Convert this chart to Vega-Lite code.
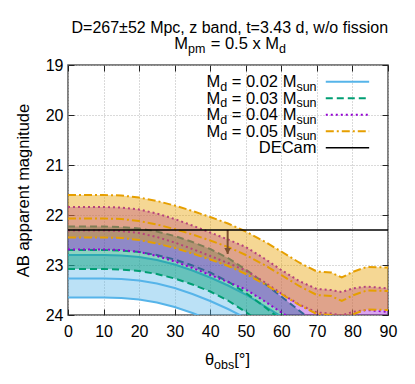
{
  "$schema": "https://vega.github.io/schema/vega-lite/v6.json",
  "width": 320,
  "height": 250,
  "autosize": "none",
  "padding": {"left": 68, "top": 65, "right": 27, "bottom": 69},
  "background": "white",
  "datasets": {
    "bands": [
      {"md": "0.02", "theta": 0, "upper": 22.80, "center": 23.27, "lower": 23.65},
      {"md": "0.02", "theta": 5, "upper": 22.80, "center": 23.27, "lower": 23.65},
      {"md": "0.02", "theta": 10, "upper": 22.80, "center": 23.27, "lower": 23.65},
      {"md": "0.02", "theta": 15, "upper": 22.81, "center": 23.28, "lower": 23.66},
      {"md": "0.02", "theta": 20, "upper": 22.84, "center": 23.31, "lower": 23.69},
      {"md": "0.02", "theta": 25, "upper": 22.90, "center": 23.37, "lower": 23.75},
      {"md": "0.02", "theta": 30, "upper": 22.99, "center": 23.46, "lower": 23.84},
      {"md": "0.02", "theta": 35, "upper": 23.11, "center": 23.58, "lower": 23.96},
      {"md": "0.02", "theta": 40, "upper": 23.25, "center": 23.72, "lower": 24.10},
      {"md": "0.02", "theta": 45, "upper": 23.41, "center": 23.88, "lower": 24.26},
      {"md": "0.02", "theta": 50, "upper": 23.59, "center": 24.06, "lower": 24.44},
      {"md": "0.02", "theta": 55, "upper": 23.81, "center": 24.28, "lower": 24.66},
      {"md": "0.02", "theta": 60, "upper": 24.03, "center": 24.50, "lower": 24.88},
      {"md": "0.03", "theta": 0, "upper": 22.23, "center": 22.70, "lower": 23.08},
      {"md": "0.03", "theta": 5, "upper": 22.23, "center": 22.70, "lower": 23.08},
      {"md": "0.03", "theta": 10, "upper": 22.23, "center": 22.70, "lower": 23.08},
      {"md": "0.03", "theta": 15, "upper": 22.24, "center": 22.71, "lower": 23.09},
      {"md": "0.03", "theta": 20, "upper": 22.27, "center": 22.74, "lower": 23.12},
      {"md": "0.03", "theta": 25, "upper": 22.33, "center": 22.80, "lower": 23.18},
      {"md": "0.03", "theta": 30, "upper": 22.42, "center": 22.89, "lower": 23.27},
      {"md": "0.03", "theta": 35, "upper": 22.54, "center": 23.01, "lower": 23.39},
      {"md": "0.03", "theta": 40, "upper": 22.68, "center": 23.15, "lower": 23.53},
      {"md": "0.03", "theta": 45, "upper": 22.86, "center": 23.33, "lower": 23.71},
      {"md": "0.03", "theta": 50, "upper": 23.09, "center": 23.56, "lower": 23.94},
      {"md": "0.03", "theta": 55, "upper": 23.35, "center": 23.82, "lower": 24.20},
      {"md": "0.03", "theta": 60, "upper": 23.63, "center": 24.10, "lower": 24.48},
      {"md": "0.03", "theta": 65, "upper": 23.91, "center": 24.38, "lower": 24.76},
      {"md": "0.03", "theta": 70, "upper": 24.18, "center": 24.65, "lower": 25.03},
      {"md": "0.04", "theta": 0, "upper": 21.84, "center": 22.31, "lower": 22.69},
      {"md": "0.04", "theta": 5, "upper": 21.84, "center": 22.31, "lower": 22.69},
      {"md": "0.04", "theta": 10, "upper": 21.84, "center": 22.31, "lower": 22.69},
      {"md": "0.04", "theta": 15, "upper": 21.85, "center": 22.32, "lower": 22.70},
      {"md": "0.04", "theta": 20, "upper": 21.89, "center": 22.36, "lower": 22.74},
      {"md": "0.04", "theta": 25, "upper": 21.97, "center": 22.44, "lower": 22.82},
      {"md": "0.04", "theta": 30, "upper": 22.08, "center": 22.55, "lower": 22.93},
      {"md": "0.04", "theta": 35, "upper": 22.21, "center": 22.68, "lower": 23.06},
      {"md": "0.04", "theta": 40, "upper": 22.35, "center": 22.82, "lower": 23.20},
      {"md": "0.04", "theta": 45, "upper": 22.49, "center": 22.96, "lower": 23.34},
      {"md": "0.04", "theta": 50, "upper": 22.64, "center": 23.11, "lower": 23.49},
      {"md": "0.04", "theta": 55, "upper": 22.86, "center": 23.33, "lower": 23.71},
      {"md": "0.04", "theta": 60, "upper": 23.10, "center": 23.57, "lower": 23.95},
      {"md": "0.04", "theta": 65, "upper": 23.32, "center": 23.79, "lower": 24.17},
      {"md": "0.04", "theta": 70, "upper": 23.48, "center": 23.95, "lower": 24.33},
      {"md": "0.04", "theta": 74, "upper": 23.50, "center": 23.97, "lower": 24.35},
      {"md": "0.04", "theta": 77, "upper": 23.54, "center": 24.01, "lower": 24.39},
      {"md": "0.04", "theta": 80, "upper": 23.47, "center": 23.94, "lower": 24.32},
      {"md": "0.04", "theta": 84, "upper": 23.43, "center": 23.90, "lower": 24.28},
      {"md": "0.04", "theta": 90, "upper": 23.47, "center": 23.94, "lower": 24.32},
      {"md": "0.05", "theta": 0, "upper": 21.60, "center": 22.07, "lower": 22.45},
      {"md": "0.05", "theta": 5, "upper": 21.60, "center": 22.07, "lower": 22.45},
      {"md": "0.05", "theta": 10, "upper": 21.60, "center": 22.07, "lower": 22.45},
      {"md": "0.05", "theta": 15, "upper": 21.61, "center": 22.08, "lower": 22.46},
      {"md": "0.05", "theta": 20, "upper": 21.65, "center": 22.12, "lower": 22.50},
      {"md": "0.05", "theta": 25, "upper": 21.72, "center": 22.19, "lower": 22.57},
      {"md": "0.05", "theta": 30, "upper": 21.81, "center": 22.28, "lower": 22.66},
      {"md": "0.05", "theta": 35, "upper": 21.92, "center": 22.39, "lower": 22.77},
      {"md": "0.05", "theta": 40, "upper": 22.04, "center": 22.51, "lower": 22.89},
      {"md": "0.05", "theta": 45, "upper": 22.17, "center": 22.64, "lower": 23.02},
      {"md": "0.05", "theta": 50, "upper": 22.33, "center": 22.80, "lower": 23.18},
      {"md": "0.05", "theta": 55, "upper": 22.52, "center": 22.99, "lower": 23.37},
      {"md": "0.05", "theta": 60, "upper": 22.73, "center": 23.20, "lower": 23.58},
      {"md": "0.05", "theta": 65, "upper": 22.95, "center": 23.42, "lower": 23.80},
      {"md": "0.05", "theta": 70, "upper": 23.13, "center": 23.60, "lower": 23.98},
      {"md": "0.05", "theta": 74, "upper": 23.15, "center": 23.62, "lower": 24.00},
      {"md": "0.05", "theta": 77, "upper": 23.25, "center": 23.72, "lower": 24.10},
      {"md": "0.05", "theta": 80, "upper": 23.14, "center": 23.61, "lower": 23.99},
      {"md": "0.05", "theta": 84, "upper": 23.04, "center": 23.51, "lower": 23.89},
      {"md": "0.05", "theta": 90, "upper": 23.05, "center": 23.52, "lower": 23.90}
    ],
    "arrow": [{"theta": 44.9, "start": 22.3, "end": 22.78}]
  },
  "layer": [
    {
      "layer": [
        {
          "data": {"name": "bands"},
          "transform": [{"filter": "datum.md === '0.02'"}],
          "mark": {"type": "area", "color": "#56B4E9", "fillOpacity": 0.4, "clip": true},
          "encoding": {
            "x": {"field": "theta", "type": "quantitative", "scale": {"domain": [0, 90], "nice": false, "zero": false},
                  "axis": {"orient": "bottom", "values": [0, 10, 20, 30, 40, 50, 60, 70, 80, 90], "tickCount": 10, "title": null, "labelPadding": 14, "labelOverlap": false, "labelFlush": false}},
            "y": {"field": "upper", "type": "quantitative", "scale": {"domain": [19, 24], "reverse": true, "nice": false, "zero": false},
                  "axis": {"orient": "left", "values": [19, 20, 21, 22, 23, 24], "tickCount": 6, "title": "AB apparent magnitude", "labelPadding": 11, "titlePadding": 14, "labelOverlap": false, "labelFlush": false}},
            "y2": {"field": "lower"}
          }
        },
        {
          "data": {"name": "bands"},
          "transform": [{"filter": "datum.md === '0.02'"}, {"fold": ["upper", "center", "lower"], "as": ["bound", "mag"]}],
          "mark": {"type": "line", "color": "#56B4E9", "strokeWidth": 2, "clip": true},
          "encoding": {"x": {"field": "theta", "type": "quantitative"}, "y": {"field": "mag", "type": "quantitative"}, "detail": {"field": "bound"}}
        },
        {
          "data": {"name": "bands"},
          "transform": [{"filter": "datum.md === '0.03'"}],
          "mark": {"type": "area", "color": "#009E73", "fillOpacity": 0.45, "clip": true},
          "encoding": {"x": {"field": "theta", "type": "quantitative"}, "y": {"field": "upper", "type": "quantitative"}, "y2": {"field": "lower"}}
        },
        {
          "data": {"name": "bands"},
          "transform": [{"filter": "datum.md === '0.03'"}, {"fold": ["upper", "center", "lower"], "as": ["bound", "mag"]}],
          "mark": {"type": "line", "color": "#009E73", "strokeWidth": 2, "strokeDash": [7, 4], "clip": true},
          "encoding": {"x": {"field": "theta", "type": "quantitative"}, "y": {"field": "mag", "type": "quantitative"}, "detail": {"field": "bound"}}
        },
        {
          "data": {"name": "bands"},
          "transform": [{"filter": "datum.md === '0.04'"}],
          "mark": {"type": "area", "color": "#9400D3", "fillOpacity": 0.35, "clip": true},
          "encoding": {"x": {"field": "theta", "type": "quantitative"}, "y": {"field": "upper", "type": "quantitative"}, "y2": {"field": "lower"}}
        },
        {
          "data": {"name": "bands"},
          "transform": [{"filter": "datum.md === '0.04'"}, {"fold": ["upper", "center", "lower"], "as": ["bound", "mag"]}],
          "mark": {"type": "line", "color": "#9400D3", "strokeWidth": 2, "strokeDash": [2, 3], "clip": true},
          "encoding": {"x": {"field": "theta", "type": "quantitative"}, "y": {"field": "mag", "type": "quantitative"}, "detail": {"field": "bound"}}
        },
        {
          "data": {"name": "bands"},
          "transform": [{"filter": "datum.md === '0.05'"}],
          "mark": {"type": "area", "color": "#E69F00", "fillOpacity": 0.42, "clip": true},
          "encoding": {"x": {"field": "theta", "type": "quantitative"}, "y": {"field": "upper", "type": "quantitative"}, "y2": {"field": "lower"}}
        },
        {
          "data": {"name": "bands"},
          "transform": [{"filter": "datum.md === '0.05'"}, {"fold": ["upper", "center", "lower"], "as": ["bound", "mag"]}],
          "mark": {"type": "line", "color": "#E69F00", "strokeWidth": 2, "strokeDash": [8, 3, 2, 3], "clip": true},
          "encoding": {"x": {"field": "theta", "type": "quantitative"}, "y": {"field": "mag", "type": "quantitative"}, "detail": {"field": "bound"}}
        },
        {
          "data": {"name": "arrow"},
          "mark": {"type": "rule", "color": "#7d5030", "strokeWidth": 2},
          "encoding": {"x": {"field": "theta", "type": "quantitative"}, "y": {"field": "start", "type": "quantitative"}, "y2": {"field": "end"}}
        },
        {
          "data": {"name": "arrow"},
          "mark": {"type": "point", "shape": "triangle-down", "filled": true, "color": "#7d5030", "opacity": 1, "size": 45, "yOffset": -3},
          "encoding": {"x": {"field": "theta", "type": "quantitative"}, "y": {"field": "end", "type": "quantitative"}}
        },
        {
          "data": {"values": [{}]},
          "layer": [
            {"mark": {"type": "rule", "color": "#000000", "strokeWidth": 1.5}, "encoding": {"y": {"datum": 22.3, "type": "quantitative"}}},
            {"mark": {"type": "rule", "color": "#56B4E9", "strokeWidth": 2}, "encoding": {"x": {"datum": 72.5, "type": "quantitative"}, "x2": {"datum": 84.7}, "y": {"datum": 19.334, "type": "quantitative"}}},
            {"mark": {"type": "rule", "color": "#009E73", "strokeWidth": 2, "strokeDash": [7, 4]}, "encoding": {"x": {"datum": 72.5, "type": "quantitative"}, "x2": {"datum": 84.7}, "y": {"datum": 19.664, "type": "quantitative"}}},
            {"mark": {"type": "rule", "color": "#9400D3", "strokeWidth": 2, "strokeDash": [2, 3]}, "encoding": {"x": {"datum": 72.5, "type": "quantitative"}, "x2": {"datum": 84.7}, "y": {"datum": 19.994, "type": "quantitative"}}},
            {"mark": {"type": "rule", "color": "#E69F00", "strokeWidth": 2, "strokeDash": [8, 3, 2, 3]}, "encoding": {"x": {"datum": 72.5, "type": "quantitative"}, "x2": {"datum": 84.7}, "y": {"datum": 20.324, "type": "quantitative"}}},
            {"mark": {"type": "rule", "color": "#000000", "strokeWidth": 1.5}, "encoding": {"x": {"datum": 72.5, "type": "quantitative"}, "x2": {"datum": 84.7}, "y": {"datum": 20.654, "type": "quantitative"}}},

            {"mark": {"type": "text", "text": "M", "align": "right", "baseline": "alphabetic", "fontSize": 16.5, "dx": -96.35}, "encoding": {"x": {"datum": 69.9, "type": "quantitative"}, "y": {"datum": 19.446, "type": "quantitative"}}},
            {"mark": {"type": "text", "text": "d", "align": "left", "baseline": "alphabetic", "fontSize": 12.5, "dx": -96.35, "dy": 3.5}, "encoding": {"x": {"datum": 69.9, "type": "quantitative"}, "y": {"datum": 19.446, "type": "quantitative"}}},
            {"mark": {"type": "text", "text": "\u00a0= 0.02 M", "align": "right", "baseline": "alphabetic", "fontSize": 16.5, "dx": -20.15}, "encoding": {"x": {"datum": 69.9, "type": "quantitative"}, "y": {"datum": 19.446, "type": "quantitative"}}},
            {"mark": {"type": "text", "text": "sun", "align": "left", "baseline": "alphabetic", "fontSize": 12.5, "dx": -20.15, "dy": 3.5}, "encoding": {"x": {"datum": 69.9, "type": "quantitative"}, "y": {"datum": 19.446, "type": "quantitative"}}},

            {"mark": {"type": "text", "text": "M", "align": "right", "baseline": "alphabetic", "fontSize": 16.5, "dx": -96.35}, "encoding": {"x": {"datum": 69.9, "type": "quantitative"}, "y": {"datum": 19.776, "type": "quantitative"}}},
            {"mark": {"type": "text", "text": "d", "align": "left", "baseline": "alphabetic", "fontSize": 12.5, "dx": -96.35, "dy": 3.5}, "encoding": {"x": {"datum": 69.9, "type": "quantitative"}, "y": {"datum": 19.776, "type": "quantitative"}}},
            {"mark": {"type": "text", "text": "\u00a0= 0.03 M", "align": "right", "baseline": "alphabetic", "fontSize": 16.5, "dx": -20.15}, "encoding": {"x": {"datum": 69.9, "type": "quantitative"}, "y": {"datum": 19.776, "type": "quantitative"}}},
            {"mark": {"type": "text", "text": "sun", "align": "left", "baseline": "alphabetic", "fontSize": 12.5, "dx": -20.15, "dy": 3.5}, "encoding": {"x": {"datum": 69.9, "type": "quantitative"}, "y": {"datum": 19.776, "type": "quantitative"}}},

            {"mark": {"type": "text", "text": "M", "align": "right", "baseline": "alphabetic", "fontSize": 16.5, "dx": -96.35}, "encoding": {"x": {"datum": 69.9, "type": "quantitative"}, "y": {"datum": 20.106, "type": "quantitative"}}},
            {"mark": {"type": "text", "text": "d", "align": "left", "baseline": "alphabetic", "fontSize": 12.5, "dx": -96.35, "dy": 3.5}, "encoding": {"x": {"datum": 69.9, "type": "quantitative"}, "y": {"datum": 20.106, "type": "quantitative"}}},
            {"mark": {"type": "text", "text": "\u00a0= 0.04 M", "align": "right", "baseline": "alphabetic", "fontSize": 16.5, "dx": -20.15}, "encoding": {"x": {"datum": 69.9, "type": "quantitative"}, "y": {"datum": 20.106, "type": "quantitative"}}},
            {"mark": {"type": "text", "text": "sun", "align": "left", "baseline": "alphabetic", "fontSize": 12.5, "dx": -20.15, "dy": 3.5}, "encoding": {"x": {"datum": 69.9, "type": "quantitative"}, "y": {"datum": 20.106, "type": "quantitative"}}},

            {"mark": {"type": "text", "text": "M", "align": "right", "baseline": "alphabetic", "fontSize": 16.5, "dx": -96.35}, "encoding": {"x": {"datum": 69.9, "type": "quantitative"}, "y": {"datum": 20.436, "type": "quantitative"}}},
            {"mark": {"type": "text", "text": "d", "align": "left", "baseline": "alphabetic", "fontSize": 12.5, "dx": -96.35, "dy": 3.5}, "encoding": {"x": {"datum": 69.9, "type": "quantitative"}, "y": {"datum": 20.436, "type": "quantitative"}}},
            {"mark": {"type": "text", "text": "\u00a0= 0.05 M", "align": "right", "baseline": "alphabetic", "fontSize": 16.5, "dx": -20.15}, "encoding": {"x": {"datum": 69.9, "type": "quantitative"}, "y": {"datum": 20.436, "type": "quantitative"}}},
            {"mark": {"type": "text", "text": "sun", "align": "left", "baseline": "alphabetic", "fontSize": 12.5, "dx": -20.15, "dy": 3.5}, "encoding": {"x": {"datum": 69.9, "type": "quantitative"}, "y": {"datum": 20.436, "type": "quantitative"}}},

            {"mark": {"type": "text", "text": "DECam", "align": "right", "baseline": "alphabetic", "fontSize": 16.5}, "encoding": {"x": {"datum": 69.9, "type": "quantitative"}, "y": {"datum": 20.766, "type": "quantitative"}}},

            {"mark": {"type": "text", "text": "D=267±52 Mpc, z band, t=3.43 d, w/o fission", "align": "center", "baseline": "alphabetic", "fontSize": 16}, "encoding": {"x": {"datum": 45.5, "type": "quantitative"}, "y": {"datum": 18.366, "type": "quantitative"}}},
            {"mark": {"type": "text", "text": "M", "align": "right", "baseline": "alphabetic", "fontSize": 16.5}, "encoding": {"x": {"datum": 33.75, "type": "quantitative"}, "y": {"datum": 18.686, "type": "quantitative"}}},
            {"mark": {"type": "text", "text": "pm", "align": "left", "baseline": "alphabetic", "fontSize": 12.5, "dy": 3.5}, "encoding": {"x": {"datum": 33.75, "type": "quantitative"}, "y": {"datum": 18.686, "type": "quantitative"}}},
            {"mark": {"type": "text", "text": "= 0.5 x M", "align": "right", "baseline": "alphabetic", "fontSize": 16.5, "dx": 91}, "encoding": {"x": {"datum": 33.75, "type": "quantitative"}, "y": {"datum": 18.686, "type": "quantitative"}}},
            {"mark": {"type": "text", "text": "d", "align": "left", "baseline": "alphabetic", "fontSize": 12.5, "dx": 91, "dy": 3.5}, "encoding": {"x": {"datum": 33.75, "type": "quantitative"}, "y": {"datum": 18.686, "type": "quantitative"}}},

            {"mark": {"type": "text", "text": "θ", "align": "right", "baseline": "alphabetic", "fontSize": 16.5, "dx": 9.2}, "encoding": {"x": {"datum": 38.5, "type": "quantitative"}, "y": {"datum": 25.0, "type": "quantitative"}}},
            {"mark": {"type": "text", "text": "obs", "align": "left", "baseline": "alphabetic", "fontSize": 12.5, "dx": 9.2, "dy": 3.5}, "encoding": {"x": {"datum": 38.5, "type": "quantitative"}, "y": {"datum": 25.0, "type": "quantitative"}}},
            {"mark": {"type": "text", "text": "[°]", "align": "left", "baseline": "alphabetic", "fontSize": 16.5, "dx": 29.35}, "encoding": {"x": {"datum": 38.5, "type": "quantitative"}, "y": {"datum": 25.0, "type": "quantitative"}}}
          ]
        }
      ]
    },
    {
      "data": {"name": "bands"},
      "mark": {"type": "point", "opacity": 0},
      "encoding": {
        "x": {"field": "theta", "type": "quantitative", "scale": {"domain": [0, 90], "nice": false, "zero": false},
              "axis": {"orient": "top", "values": [0, 10, 20, 30, 40, 50, 60, 70, 80, 90], "tickCount": 10, "labels": false, "grid": false, "title": null}},
        "y": {"field": "upper", "type": "quantitative", "scale": {"domain": [19, 24], "reverse": true, "nice": false, "zero": false},
              "axis": {"orient": "right", "values": [19, 20, 21, 22, 23, 24], "tickCount": 6, "labels": false, "grid": false, "title": null}}
      }
    }
  ],
  "resolve": {"axis": {"x": "independent", "y": "independent"}},
  "config": {
    "font": "Liberation Sans",
    "view": {"stroke": "#555555", "strokeWidth": 1.5},
    "text": {"font": "Liberation Sans", "color": "#000000"},
    "axis": {
      "domain": false,
      "grid": true,
      "gridColor": "#b4b4b4",
      "gridDash": [1, 2],
      "gridWidth": 1,
      "ticks": true,
      "tickSize": -6,
      "tickColor": "#222222",
      "tickWidth": 1,
      "labelOverlap": false,
      "labelFlush": false,
      "labelFont": "Liberation Sans",
      "labelFontSize": 16,
      "labelColor": "#000000",
      "titleFont": "Liberation Sans",
      "titleFontSize": 16.5,
      "titleFontWeight": "normal",
      "titleColor": "#000000"
    },
    "axisX": {"labelOverlap": false, "labelFlush": false, "tickCount": 10},
    "axisY": {"tickCount": 6}
  }
}
